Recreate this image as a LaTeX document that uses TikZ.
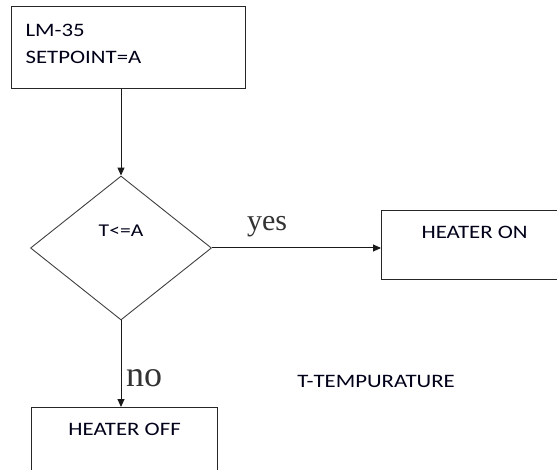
\documentclass[tikz,border=0pt]{standalone}
\usepackage{fontspec}
\setmainfont{Carlito}[FakeStretch=1.2]
\newfontfamily\answerfont{Liberation Serif}
\usetikzlibrary{
  arrows.meta,
  positioning,
  shapes.geometric
}
\tikzset{
  box/.style={draw=black!85, line width=1.2pt, anchor=north west,
    minimum width=186pt, inner xsep=0pt, inner ysep=6pt,
    text height=22pt, text depth=35pt},
  test/.style={diamond, draw=black!75, line width=0.9pt, aspect=1.257,
    minimum width=181pt, minimum height=144pt, inner sep=0pt,
    text height=12pt, text depth=34pt},
  answer/.style={anchor=base, text=black!80, font=\answerfont},
  flow/.style={draw=black!90, line width=1pt, -{Triangle[length=8pt, width=7pt]}},
}

\begin{document}
\begin{tikzpicture}[x=1pt, y=-1pt, font=\fontsize{19}{27}\selectfont, text=black!90!blue]
      \useasboundingbox (0,0) rectangle (557,470);
      \node (sensor) [box, minimum width=234pt, inner xsep=14pt,
        text width=206pt, align=left, text height=24pt, text depth=46pt]
        at (11,6) {
        LM-35 \\
        SETPOINT=A
      };
      \node (decision) [test] at (121,248) {
        \fontsize{18}{20}\selectfont T<=A
      };
      \node (heateron) [box] at (381,210) {HEATER ON};
      \node (heateroff) [box] at (31,407) {HEATER OFF};
      \node (yes) [answer, font=\answerfont\fontsize{30}{30}\selectfont] at (267,231) {yes};
      \node (no) [answer, font=\answerfont\fontsize{36}{36}\selectfont] at (144,386) {no};
      \node (legend) [anchor=base] at (376,388) {T-TEMPURATURE};

      \draw[flow] (sensor.south -| decision.north) -- (decision.north);
      \draw[flow] (decision.east) -- (decision.east -| heateron.west);
      \draw[flow] (decision.south) -- (decision.south |- heateroff.north);
    \end{tikzpicture}
\end{document}
